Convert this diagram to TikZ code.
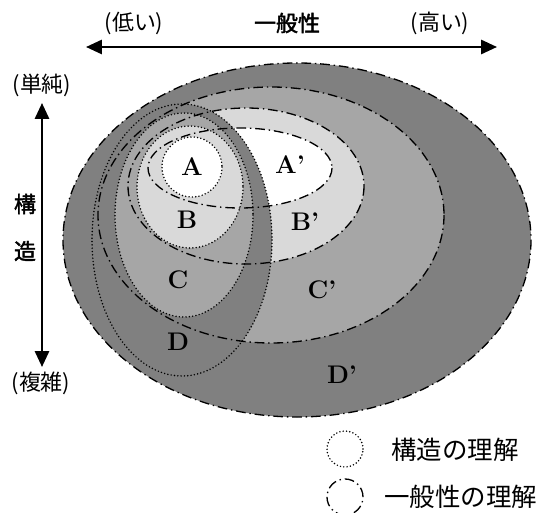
\documentclass[tikz,border=0pt]{standalone}
\usepackage{fontspec}
\usetikzlibrary{arrows.meta}
\newfontfamily\jp{Noto Sans CJK JP}
\newfontfamily\jpb{Noto Sans CJK JP}[FakeBold=2]
\definecolor{darkg}{gray}{0.5}
\definecolor{midg}{gray}{0.65}
\definecolor{lightg}{gray}{0.85}
\tikzset{
  gen/.style={line width=0.75pt,dash pattern=on 5.5pt off 2.2pt on 0.8pt off 2.2pt},
  struct/.style={line width=0.95pt,line cap=round,dash pattern=on 0pt off 1.9pt},
  axis/.style={line width=1.3pt,{Triangle[length=9pt,width=8pt]}-{Triangle[length=9pt,width=8pt]}},
  letter/.style={font=\bfseries\fontsize{14.5}{15}\selectfont},
  jtext/.style={font=\jp\fontsize{12.5}{13}\selectfont},
  jbold/.style={font=\jpb\fontsize{12.5}{13}\selectfont},
  legend/.style={font=\jp\fontsize{14.5}{15}\selectfont,anchor=west},
}
\begin{document}
\begin{tikzpicture}[x=0.02cm,y=-0.02cm]
  \useasboundingbox (0,0) rectangle (537,513);

  % axes
  \coordinate (HL) at (86,47);
  \coordinate (HR) at (497,47);
  \coordinate (VT) at (42,103);
  \coordinate (VB) at (42,367);
  \draw[axis] (HL) -- (HR);
  \draw[axis] (VT) -- (VB);
  \node[jtext] (low) at (134,23) {(低い)};
  \node[jbold] (gen) at (287,23) {一般性};
  \node[jtext] (high) at (440,23) {(高い)};
  \node[jtext] (simple) at (42,85) {(単純)};
  \node[jbold] (k1) at (25,204) {構};
  \node[jbold] (k2) at (25,251) {造};
  \node[jtext] (complex) at (41,383) {(複雑)};

  % ellipse centres
  \coordinate (Dg) at (297,240);
  \coordinate (Cg) at (271,215);
  \coordinate (Bg) at (246,186);
  \coordinate (Ag) at (240,168);
  \coordinate (Ds) at (182,240);
  \coordinate (Cs) at (184,215);
  \coordinate (Bs) at (190,187);
  \coordinate (As) at (192,167);

  % fills
  \fill[darkg] (Dg) ellipse [x radius=234,y radius=177];
  \fill[midg] (Cg) ellipse [x radius=173,y radius=128];
  \fill[lightg] (Bg) ellipse [x radius=118,y radius=78];
  \fill[white] (Ag) ellipse [x radius=92,y radius=40];
  \fill[darkg] (Ds) ellipse [x radius=90,y radius=136];
  \fill[midg] (Cs) ellipse [x radius=69,y radius=102];
  \fill[lightg] (Bs) ellipse [x radius=53,y radius=61];
  \fill[white] (As) ellipse [x radius=30,y radius=30];

  % outlines
  \draw[gen] (Dg) ellipse [x radius=234,y radius=177];
  \draw[gen] (Cg) ellipse [x radius=173,y radius=128];
  \draw[gen] (Bg) ellipse [x radius=118,y radius=78];
  \draw[gen] (Ag) ellipse [x radius=92,y radius=40];
  \draw[struct] (Ds) ellipse [x radius=90,y radius=136];
  \draw[struct] (Cs) ellipse [x radius=69,y radius=102];
  \draw[struct] (Bs) ellipse [x radius=53,y radius=61];
  \draw[struct] (As) ellipse [x radius=30,y radius=30];

  \node[letter] (A) at (192,167) {A};
  \node[letter] (A') at (290,165) {A'};
  \node[letter] (B) at (187,220) {B};
  \node[letter] (B') at (305,222) {B'};
  \node[letter] (C) at (178,280) {C};
  \node[letter] (C') at (322,290) {C'};
  \node[letter] (D) at (178,342) {D};
  \node[letter] (D') at (342,375) {D'};

  % legend
  \node[struct,draw,circle,minimum size=0.72cm] (LS) at (345,449) {};
  \node[gen,draw,circle,minimum size=0.72cm] (LG) at (345,497) {};
  \node[legend] (LSt) at (385,450) {構造の理解};
  \node[legend] (LGt) at (378,497) {一般性の理解};
\end{tikzpicture}
\end{document}
